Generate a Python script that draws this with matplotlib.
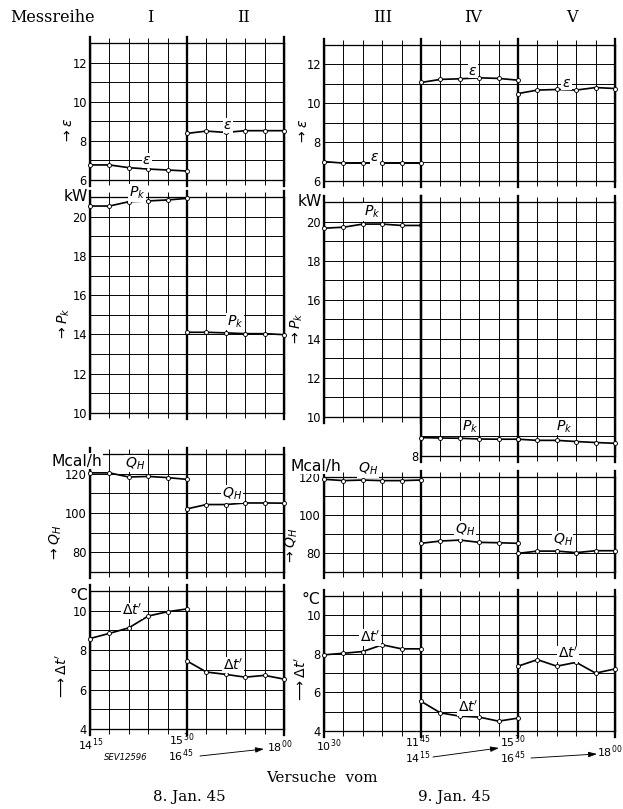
import numpy as np
import matplotlib.pyplot as plt
from matplotlib.transforms import blended_transform_factory, offset_copy

plt.rcParams['font.family'] = 'DejaVu Sans'
plt.rcParams['mathtext.fontset'] = 'dejavusans'

W, H = 623, 809

# readings per measuring series (6 readings, one per grid step)
steps = np.arange(6)

eps_I = [6.77, 6.77, 6.63, 6.56, 6.51, 6.46]
eps_II = [8.38, 8.50, 8.43, 8.52, 8.52, 8.52]
eps_III = [7.00, 6.92, 6.92, 6.92, 6.92, 6.92]
eps_IV = [11.07, 11.23, 11.26, 11.31, 11.28, 11.19]
eps_V = [10.50, 10.68, 10.71, 10.68, 10.81, 10.76]

pk_I = [20.54, 20.54, 20.76, 20.80, 20.85, 20.93]
pk_II = [14.11, 14.11, 14.08, 14.04, 14.04, 13.99]
pk_III = [19.66, 19.71, 19.87, 19.87, 19.80, 19.80]
pk_IV = [8.94, 8.92, 8.91, 8.87, 8.86, 8.86]
pk_V = [8.86, 8.80, 8.80, 8.74, 8.69, 8.65]

qh_I = [120.4, 120.4, 118.3, 118.6, 118.0, 117.1]
qh_II = [102.1, 104.3, 104.3, 105.1, 105.1, 105.0]
qh_III = [118.8, 118.1, 118.4, 118.1, 118.1, 118.4]
qh_IV = [85.1, 86.3, 86.8, 85.6, 85.4, 85.1]
qh_V = [79.8, 81.0, 81.0, 80.2, 81.2, 81.2]

dt_I = [8.59, 8.85, 9.13, 9.73, 9.95, 10.09]
dt_II = [7.45, 6.89, 6.77, 6.63, 6.72, 6.53]
dt_III = [7.95, 8.03, 8.12, 8.47, 8.26, 8.26]
dt_IV = [5.54, 4.94, 4.77, 4.72, 4.51, 4.67]
dt_V = [7.36, 7.70, 7.36, 7.56, 7.00, 7.22]

series_left = ['I', 'II']
series_right = ['III', 'IV', 'V']
times_8 = [r'$14^{15}$', r'$15^{30}$', r'$16^{45}$', r'$18^{00}$']
times_9 = [r'$10^{30}$', r'$11^{45}$', r'$14^{15}$', r'$15^{30}$', r'$16^{45}$', r'$18^{00}$']

fig = plt.figure(figsize=(W / 72, H / 72), dpi=72)
fig.patch.set_facecolor('white')


def at(ax, dx, dy):
    base = blended_transform_factory(ax.transData, ax.transAxes)
    return offset_copy(base, fig=fig, x=dx, y=dy, units='points')


def panel(x0, x1, ytop, ybot, first, last, lo, hi, step, labelled, bounds):
    ax = fig.add_axes([x0 / W, 1 - ybot / H, (x1 - x0) / W, (ybot - ytop) / H])
    ax.set_xlim(first, last)
    ax.set_ylim(lo, hi)
    ax.set_xticks(np.arange(first, last + 1))
    ax.set_yticks(labelled)
    ax.set_yticks(np.arange(lo, hi + 0.01, step), minor=True)
    ax.grid(which='both', color='black', lw=0.95)
    ax.tick_params(axis='x', which='both', direction='out', length=5, width=0.95,
                   top=True, bottom=True, labelbottom=False)
    ax.tick_params(axis='y', which='both', length=0, pad=3, labelsize=11.5)
    for s in ax.spines.values():
        s.set_linewidth(1.3)
    h = ybot - ytop
    for b in bounds:
        ax.axvline(b, color='black', lw=2.3, ymin=-6 / h, ymax=1 + 6 / h, clip_on=False)
    return ax


def curve(ax, x, y):
    ax.plot(x, y, '-o', color='black', lw=1.7, ms=4, mfc='white', mec='black',
            mew=0.9, zorder=6, clip_on=False)


def tag(ax, x, y, s):
    ax.text(x, y, s, fontsize=14, ha='center', va='center', zorder=7,
            bbox=dict(fc='white', ec='none', pad=0.6))


def ylab(ax, frac, dx, s):
    ax.annotate(s, xy=(0, frac), xycoords='axes fraction', xytext=(dx, 0),
                textcoords='offset points', rotation=90, ha='center', va='center',
                fontsize=14)


def unit(ax, dx, dy, s, ha='right'):
    ax.annotate(s, xy=(0, 1), xycoords='axes fraction', xytext=(dx, dy),
                textcoords='offset points', ha=ha, va='center', fontsize=15.5,
                zorder=8, bbox=dict(fc='white', ec='none', pad=0.3))


# left column: 8. Jan. 45
axe_l = panel(90, 284, 43, 180, 0, 10, 6, 13, 1, [6, 8, 10, 12], [0, 5, 10])
axp_l = panel(90, 284, 197, 413, 0, 10, 10, 21, 1, [10, 12, 14, 16, 18, 20], [0, 5, 10])
axq_l = panel(90, 284, 454, 572, 0, 10, 70, 130, 10, [80, 100, 120], [0, 5, 10])
axt_l = panel(90, 284, 591, 729, 0, 10, 4, 11, 1, [4, 6, 8, 10], [0, 5, 10])

# right column: 9. Jan. 45
axe_r = panel(324, 615, 45, 181, 0, 15, 6, 13, 1, [6, 8, 10, 12], [0, 5, 10, 15])
axp_r1 = panel(324, 421, 202, 417, 0, 5, 10, 21, 1, [10, 12, 14, 16, 18, 20], [0, 5])
axp_r2 = panel(421, 615, 202, 456, 5, 15, 8, 21, 1, [8], [5, 10, 15])
axq_r = panel(324, 615, 477, 572, 0, 15, 70, 120, 10, [80, 100, 120], [0, 5, 10, 15])
axt_r = panel(324, 615, 596, 731, 0, 15, 4, 11, 1, [4, 6, 8, 10], [0, 5, 10, 15])

eps = r'$\varepsilon$'
pk = r'$P_k$'
qh = r'$Q_H$'
dt = r"$\Delta t'$"

curve(axe_l, steps, eps_I)
curve(axe_l, steps + 5, eps_II)
curve(axe_r, steps, eps_III)
curve(axe_r, steps + 5, eps_IV)
curve(axe_r, steps + 10, eps_V)
tag(axe_l, 2.94, 7.0, eps)
tag(axe_l, 7.1, 8.8, eps)
tag(axe_r, 2.63, 7.24, eps)
tag(axe_r, 7.68, 11.67, eps)
tag(axe_r, 12.5, 11.05, eps)

curve(axp_l, steps, pk_I)
curve(axp_l, steps + 5, pk_II)
curve(axp_r1, steps, pk_III)
curve(axp_r2, steps + 5, pk_IV)
curve(axp_r2, steps + 10, pk_V)
tag(axp_l, 2.42, 21.2, pk)
tag(axp_l, 7.47, 14.65, pk)
tag(axp_r1, 2.47, 20.5, pk)
tag(axp_r2, 7.53, 9.5, pk)
tag(axp_r2, 12.4, 9.5, pk)

curve(axq_l, steps, qh_I)
curve(axq_l, steps + 5, qh_II)
curve(axq_r, steps, qh_III)
curve(axq_r, steps + 5, qh_IV)
curve(axq_r, steps + 10, qh_V)
tag(axq_l, 2.32, 125.1, qh)
tag(axq_l, 7.32, 109.7, qh)
tag(axq_r, 2.27, 124.2, qh)
tag(axq_r, 7.27, 92.1, qh)
tag(axq_r, 12.3, 86.8, qh)

curve(axt_l, steps, dt_I)
curve(axt_l, steps + 5, dt_II)
curve(axt_r, steps, dt_III)
curve(axt_r, steps + 5, dt_IV)
curve(axt_r, steps + 10, dt_V)
tag(axt_l, 2.16, 10.0, dt)
tag(axt_l, 7.37, 7.23, dt)
tag(axt_r, 2.37, 8.84, dt)
tag(axt_r, 7.42, 5.22, dt)
tag(axt_r, 12.58, 8.0, dt)

# rotated axis captions
ylab(axe_l, 0.36, -22, r'$\rightarrow\varepsilon$')
ylab(axe_r, 0.36, -21, r'$\rightarrow\varepsilon$')
ylab(axp_l, 0.41, -26, r'$\rightarrow P_k$')
ylab(axp_r1, 0.41, -27, r'$\rightarrow P_k$')
ylab(axq_l, 0.24, -34, r'$\rightarrow Q_H$')
ylab(axq_r, 0.27, -32, r'$\rightarrow Q_H$')
ylab(axt_l, 0.38, -28, r"$\longrightarrow\Delta t'$")
ylab(axt_r, 0.38, -23, r"$\longrightarrow\Delta t'$")

# units
unit(axp_l, -2, 0, 'kW')
unit(axp_r1, -2, 0, 'kW')
unit(axq_l, -13, -7, 'Mcal/h', ha='center')
unit(axq_r, -8, 11, 'Mcal/h', ha='center')
unit(axt_l, -2, -5, '°C')
unit(axt_r, -4, -4, '°C')

# header
fig.text(10 / W, 1 - 17 / H, 'Messreihe', family='DejaVu Serif', fontsize=16,
         ha='left', va='center')
for ax, xs, names, dy in [(axe_l, [3.1, 7.9], series_left, 26),
                          (axe_r, [3.04, 7.7, 12.8], series_right, 28)]:
    for x, name in zip(xs, names):
        ax.text(x, 1, name, transform=at(ax, 0, dy), family='DejaVu Serif',
                fontsize=16, ha='center', va='center')

# time axis, 8. Jan.
arrow = dict(arrowstyle='-|>,head_length=0.7,head_width=0.22', color='black',
             lw=0.9, shrinkA=0, shrinkB=0)
tfs = 11


def tlabel(ax, x, s, dx, dy, ha='center'):
    ax.text(x, 0, s, transform=at(ax, dx, dy), fontsize=tfs, ha=ha, va='center')


tlabel(axt_l, 0, times_8[0], 1, -16)
tlabel(axt_l, 5, times_8[1], -5, -11)
tlabel(axt_l, 5, times_8[2], -6, -27)
tlabel(axt_l, 10, times_8[3], -4, -18)
axt_l.annotate('', xy=(10, 0), xycoords=at(axt_l, -20, -20),
               xytext=(5, 0), textcoords=at(axt_l, 13, -27), arrowprops=arrow)
axt_l.text(0, 0, 'SEV12596', transform=at(axt_l, 36, -28), fontsize=8.5,
           style='italic', ha='center', va='center')

# time axis, 9. Jan.
tlabel(axt_r, 0, times_9[0], 5, -15)
tlabel(axt_r, 5, times_9[1], -3, -11)
tlabel(axt_r, 5, times_9[2], -3, -27)
axt_r.annotate('', xy=(10, 0), xycoords=at(axt_r, -19, -17),
               xytext=(5, 0), textcoords=at(axt_r, 12, -26), arrowprops=arrow)
tlabel(axt_r, 10, times_9[3], -5, -11)
tlabel(axt_r, 10, times_9[4], -5, -27)
axt_r.annotate('', xy=(15, 0), xycoords=at(axt_r, -18, -23),
               xytext=(10, 0), textcoords=at(axt_r, 13, -27), arrowprops=arrow)
tlabel(axt_r, 15, times_9[5], -18, -21, ha='left')

# footer
fig.text(322 / W, 1 - 778 / H, 'Versuche  vom', family='DejaVu Serif', fontsize=15,
         ha='center', va='center')
fig.text(189 / W, 1 - 797 / H, '8. Jan. 45', family='DejaVu Serif', fontsize=15,
         ha='center', va='center')
fig.text(454 / W, 1 - 797 / H, '9. Jan. 45', family='DejaVu Serif', fontsize=15,
         ha='center', va='center')

fig.savefig('out.png', dpi=72)
